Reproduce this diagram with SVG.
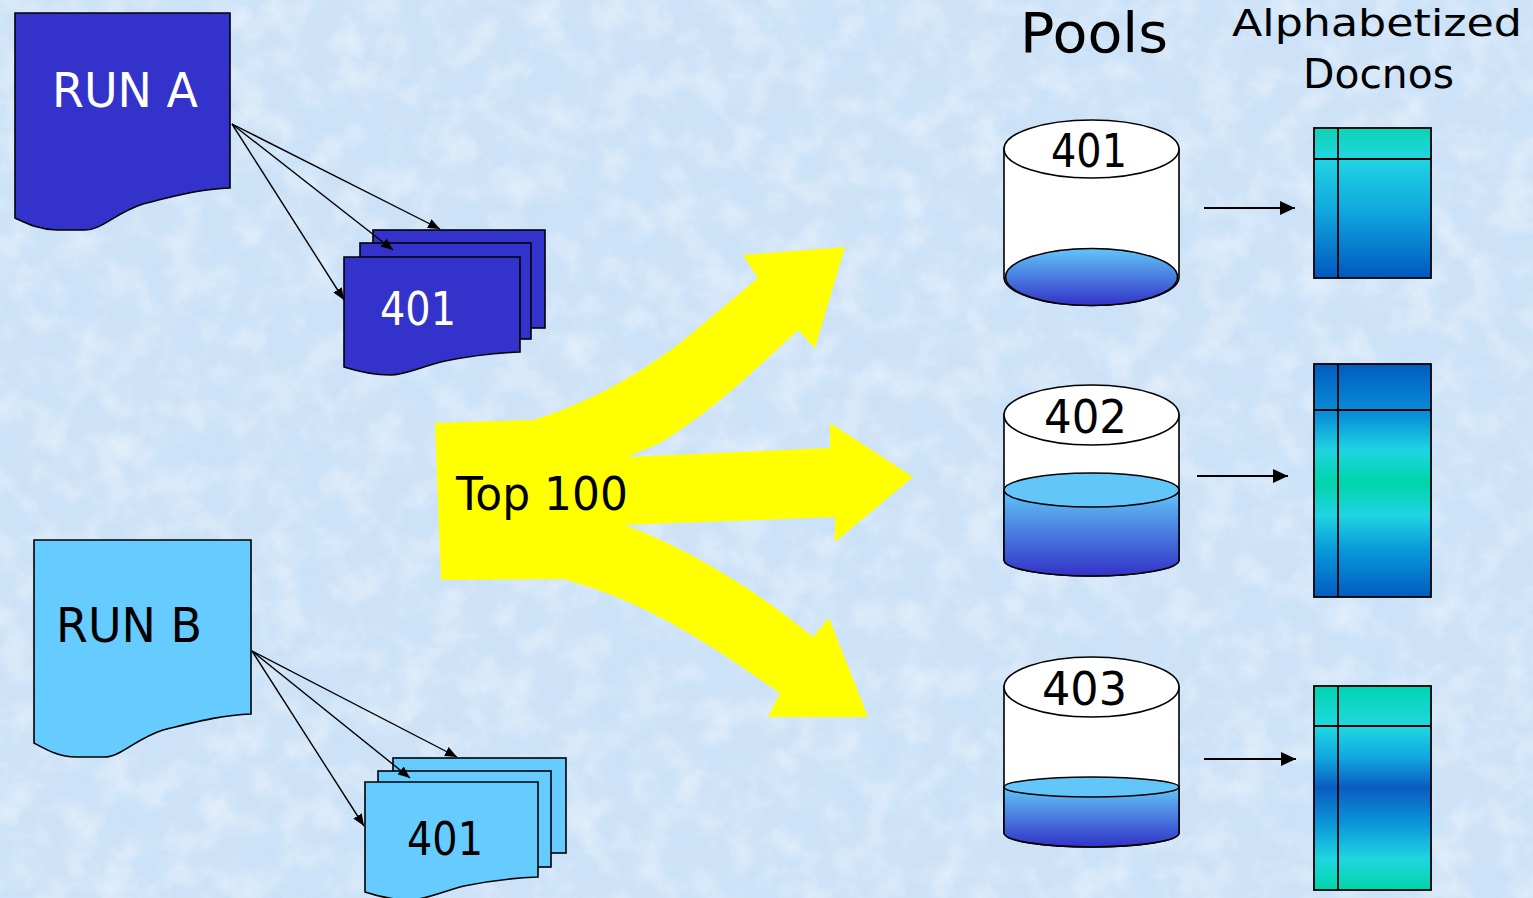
<svg xmlns="http://www.w3.org/2000/svg" width="1533" height="898" viewBox="0 0 1533 898">
<style>
.lbl{font-family:"DejaVu Sans","Liberation Sans",sans-serif;}
.w{fill:#ffffff;}
.k{fill:#000000;}
.docA{fill:#3333cc;stroke:#000;stroke-width:1.6;}
.docB{fill:#66ccff;stroke:#000;stroke-width:1.6;}
.cyl{fill:#ffffff;stroke:#000;stroke-width:1.6;}
.tbl{stroke:#000;stroke-width:1.8;}
.ln{stroke:#000;fill:none;}
</style>
<defs>
<filter id="tex" x="0" y="0" width="100%" height="100%">
<feTurbulence type="fractalNoise" baseFrequency="0.03" numOctaves="4" seed="7"/>
<feColorMatrix type="matrix" values="0 0 0 0 1  0 0 0 0 1  0 0 0 0 1  1.6 0 0 0 -0.65"/>
</filter>
<filter id="tex2" x="0" y="0" width="100%" height="100%">
<feTurbulence type="fractalNoise" baseFrequency="0.012" numOctaves="3" seed="2"/>
<feColorMatrix type="matrix" values="0 0 0 0 0.55  0 0 0 0 0.75  0 0 0 0 0.95  0 1.4 0 0 -0.6"/>
</filter>
<linearGradient id="liq" x1="0" y1="0" x2="0" y2="1">
<stop offset="0" stop-color="#62c6f8"/>
<stop offset="1" stop-color="#3232c8"/>
</linearGradient>
<linearGradient id="g401" x1="0" y1="0" x2="0" y2="1">
<stop offset="0" stop-color="#0fd2b2"/>
<stop offset="0.2" stop-color="#20d6e2"/>
<stop offset="0.55" stop-color="#10a8de"/>
<stop offset="1" stop-color="#0058c0"/>
</linearGradient>
<linearGradient id="g402" x1="0" y1="0" x2="0" y2="1">
<stop offset="0" stop-color="#005cc0"/>
<stop offset="0.22" stop-color="#0890d8"/>
<stop offset="0.37" stop-color="#20d4e2"/>
<stop offset="0.51" stop-color="#00d4a8"/>
<stop offset="0.65" stop-color="#20d4e2"/>
<stop offset="0.8" stop-color="#0898da"/>
<stop offset="1" stop-color="#005cc0"/>
</linearGradient>
<linearGradient id="g403" x1="0" y1="0" x2="0" y2="1">
<stop offset="0" stop-color="#00d4b0"/>
<stop offset="0.2" stop-color="#20d8e0"/>
<stop offset="0.35" stop-color="#10a8e0"/>
<stop offset="0.5" stop-color="#0a5cc0"/>
<stop offset="0.68" stop-color="#0a98da"/>
<stop offset="0.85" stop-color="#20d6e0"/>
<stop offset="1" stop-color="#00d4a8"/>
</linearGradient>
<marker id="ah" markerUnits="userSpaceOnUse" markerWidth="14" markerHeight="10" refX="12" refY="5" orient="auto">
<path d="M0,0 L12,5 L0,10 Z" fill="#000"/>
</marker>
<marker id="ah2" markerUnits="userSpaceOnUse" markerWidth="16" markerHeight="14" refX="15" refY="7" orient="auto">
<path d="M0,0 L15,7 L0,14 Z" fill="#000"/>
</marker>
</defs>

<rect x="0" y="0" width="1533" height="898" fill="#cde2f7"/>
<rect x="0" y="0" width="1533" height="898" filter="url(#tex2)" opacity="0.5"/>
<rect x="0" y="0" width="1533" height="898" filter="url(#tex)" opacity="0.55"/>

<g id="title-pools">
<text class="lbl k" x="1020" y="52" font-size="55" textLength="148" lengthAdjust="spacingAndGlyphs">Pools</text>
</g>
<g id="title-alpha">
<text class="lbl k" x="1232" y="36" font-size="38" textLength="290" lengthAdjust="spacingAndGlyphs">Alphabetized</text>
<text class="lbl k" x="1303" y="88" font-size="40" textLength="151" lengthAdjust="spacingAndGlyphs">Docnos</text>
</g>

<g id="top100">
<path fill="#ffff00" d="M435,423 L533,420 C585,405 645,372 690,335 L758,278 L743,255 L845,247 L815,348 L798,330 C760,365 715,410 660,443 L627,457 L830,448 L830,423 L913,477 L835,542 L835,517 L624,525 C680,545 750,585 813,637 L829,618 L868,717 L768,717 L780,693 C730,660 660,605 563,579 L441,580 Z"/>
<text class="lbl k" x="456" y="510" font-size="47" textLength="172" lengthAdjust="spacingAndGlyphs">Top 100</text>
</g>

<g id="runA">
<path class="docA" d="M15,13 H230 V188 C200,189 175,196 143,204 C115,213 102,230 85,230 L57,230 C40,230 28,224 15,218 Z"/>
<text class="lbl w" x="52" y="107" font-size="48" textLength="146" lengthAdjust="spacingAndGlyphs">RUN A</text>
</g>

<g id="stackA">
<rect class="docA" x="373" y="230" width="172" height="98"/>
<rect class="docA" x="360" y="243" width="171" height="96"/>
<path class="docA" d="M344,257 H520 V352 C495,353 470,356 445,361 C420,367 405,375 390,375 C375,375 360,372 344,367 Z"/>
<text class="lbl w" x="380" y="325" font-size="46" textLength="76" lengthAdjust="spacingAndGlyphs">401</text>
</g>

<g id="runB">
<path class="docB" d="M34,540 H251 V714 C221,715 196,722 163,730 C135,739 121,757 104,757 L76,757 C59,757 47,750 34,743 Z"/>
<text class="lbl k" x="56" y="642" font-size="48" textLength="146" lengthAdjust="spacingAndGlyphs">RUN B</text>
</g>

<g id="stackB">
<rect class="docB" x="393" y="758" width="173" height="95"/>
<rect class="docB" x="378" y="771" width="173" height="96"/>
<path class="docB" d="M365,782 H538 V877 C513,878 488,881 464,886 C440,892 425,900 410,900 C395,900 380,897 365,892 Z"/>
<text class="lbl k" x="407" y="855" font-size="46" textLength="76" lengthAdjust="spacingAndGlyphs">401</text>
</g>

<g id="pool401">
<path class="cyl" d="M1004,149 V277 A87.5,28.5 0 0 0 1179,277 V149 Z"/>
<ellipse cx="1091.5" cy="277" rx="86" ry="28.5" fill="url(#liq)" stroke="#000" stroke-width="1.6"/>
<ellipse class="cyl" cx="1091.5" cy="149" rx="87.5" ry="29"/>
<text class="lbl k" x="1051" y="167" font-size="46" textLength="76" lengthAdjust="spacingAndGlyphs">401</text>
</g>

<g id="pool402">
<path class="cyl" d="M1004,415 V560 A87.5,16 0 0 0 1179,560 V415 Z"/>
<path d="M1004,490 V560 A87.5,16 0 0 0 1179,560 V490 Z" fill="url(#liq)" stroke="#000" stroke-width="1.6"/>
<ellipse cx="1091.5" cy="490" rx="87.5" ry="17" fill="#62c6f8" stroke="#000" stroke-width="1.6"/>
<ellipse class="cyl" cx="1091.5" cy="415" rx="87.5" ry="30"/>
<text class="lbl k" x="1044" y="433" font-size="46" textLength="83" lengthAdjust="spacingAndGlyphs">402</text>
</g>

<g id="pool403">
<path class="cyl" d="M1004,687 V833 A87.5,14 0 0 0 1179,833 V687 Z"/>
<path d="M1004,787 V833 A87.5,14 0 0 0 1179,833 V787 Z" fill="url(#liq)" stroke="#000" stroke-width="1.6"/>
<ellipse cx="1091.5" cy="787" rx="87.5" ry="10" fill="#62c6f8" stroke="#000" stroke-width="1.6"/>
<ellipse class="cyl" cx="1091.5" cy="687" rx="87.5" ry="30"/>
<text class="lbl k" x="1042" y="705" font-size="46" textLength="85" lengthAdjust="spacingAndGlyphs">403</text>
</g>

<g id="docnos401">
<rect class="tbl" x="1314" y="128" width="117" height="150" fill="url(#g401)"/>
<line class="tbl" x1="1338" y1="128" x2="1338" y2="278"/>
<line class="tbl" x1="1314" y1="159" x2="1431" y2="159"/>
</g>
<g id="docnos402">
<rect class="tbl" x="1314" y="364" width="117" height="233" fill="url(#g402)"/>
<line class="tbl" x1="1338" y1="364" x2="1338" y2="597"/>
<line class="tbl" x1="1314" y1="410" x2="1431" y2="410"/>
</g>
<g id="docnos403">
<rect class="tbl" x="1314" y="686" width="117" height="204" fill="url(#g403)"/>
<line class="tbl" x1="1338" y1="686" x2="1338" y2="890"/>
<line class="tbl" x1="1314" y1="726" x2="1431" y2="726"/>
</g>

<g id="connectors">
<line class="ln" stroke-width="1.4" x1="232" y1="124" x2="440" y2="229" marker-end="url(#ah)"/>
<line class="ln" stroke-width="1.4" x1="232" y1="124" x2="393" y2="250" marker-end="url(#ah)"/>
<line class="ln" stroke-width="1.4" x1="232" y1="124" x2="344" y2="300" marker-end="url(#ah)"/>
<line class="ln" stroke-width="1.4" x1="252" y1="651" x2="457" y2="757" marker-end="url(#ah)"/>
<line class="ln" stroke-width="1.4" x1="252" y1="651" x2="410" y2="778" marker-end="url(#ah)"/>
<line class="ln" stroke-width="1.4" x1="252" y1="651" x2="364" y2="826" marker-end="url(#ah)"/>
<line class="ln" stroke-width="2" x1="1204" y1="208" x2="1295" y2="208" marker-end="url(#ah2)"/>
<line class="ln" stroke-width="2" x1="1197" y1="476" x2="1288" y2="476" marker-end="url(#ah2)"/>
<line class="ln" stroke-width="2" x1="1204" y1="759" x2="1296" y2="759" marker-end="url(#ah2)"/>
</g>
</svg>
